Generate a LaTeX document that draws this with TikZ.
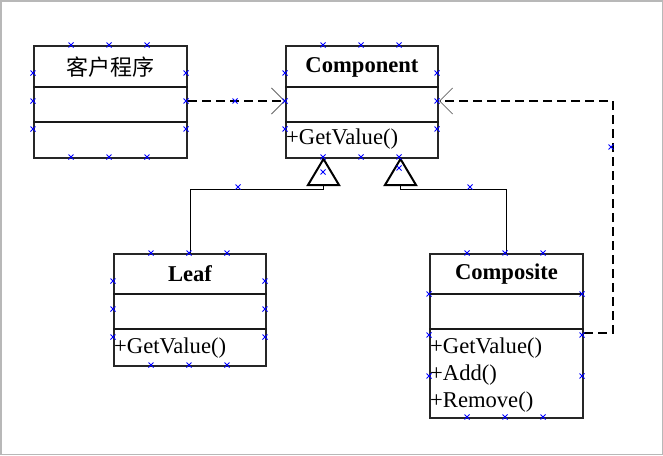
\documentclass[tikz,border=0pt]{standalone}
\usepackage{fontspec}
\setmainfont{Liberation Serif}
\newfontfamily\cjk{Noto Sans CJK SC}
\usetikzlibrary{arrows.meta,calc}
\begin{document}
\begin{tikzpicture}[x=1pt,y=-1pt,
  box/.style={draw=black!85, line width=2pt, fill=white, inner sep=0pt, anchor=north west},
  div/.style={draw=black!90, line width=1.8pt},
  title/.style={font=\fontsize{22.6}{26}\selectfont\bfseries, inner sep=0pt},
  op/.style={font=\fontsize{22.6}{26}\selectfont, inner sep=0pt, anchor=west},
  conn/.style={draw=black, line width=1pt},
  dep/.style={draw=black, line width=1.4pt, dash pattern=on 9pt off 5pt, -{Straight Barb[length=13pt,width=26pt,line width=0.8pt,color=black!60]}},
  tri/.style={draw=black, line width=2pt, fill=white, line join=miter},
  hm/.style={draw=blue, line width=0.8pt}
]
\useasboundingbox (0,0) rectangle (663,455);
\draw[draw=black!28, line width=1.5pt] (0.75,0.75) rectangle (662.25,454.25);

% boxes
\node[box, minimum width=153pt, minimum height=112pt] (client) at (33,45) {};
\node[box, minimum width=152pt, minimum height=112pt] (comp) at (285,45) {};
\node[box, minimum width=152pt, minimum height=112pt] (leaf) at (113,253) {};
\node[box, minimum width=153pt, minimum height=164pt] (compo) at (429,253) {};

% compartments
\foreach \b/\a/\c in {client/42/77, comp/42/77, leaf/41/76, compo/41/76}{
  \draw[div] ([yshift=-\a pt]\b.north west) -- ([yshift=-\a pt]\b.north east);
  \draw[div] ([yshift=-\c pt]\b.north west) -- ([yshift=-\c pt]\b.north east);
}

% titles
\node[font=\fontsize{22}{26}\selectfont\cjk, inner sep=0pt] (clientT) at ([yshift=-22pt]client.north) {客户程序};
\node[title] (compT) at ([yshift=-22.5pt]comp.north) {Component};
\node[title] (leafT) at ([yshift=-21pt]leaf.north) {Leaf};
\node[title] (compoT) at ([yshift=-21pt]compo.north) {Composite};

% operations
\node[op] (compOp) at ([xshift=1pt,yshift=-94pt]comp.north west) {+GetValue()};
\node[op] (leafOp) at ([xshift=1pt,yshift=-95pt]leaf.north west) {+GetValue()};
\node[op] (compoOp1) at ([xshift=1pt,yshift=-95pt]compo.north west) {+GetValue()};
\node[op] (compoOp2) at ([xshift=1pt,yshift=-122pt]compo.north west) {+Add()};
\node[op] (compoOp3) at ([xshift=1pt,yshift=-149pt]compo.north west) {+Remove()};

% generalization triangles
\coordinate (g1) at ($(comp.south west)!0.25!(comp.south east)$);
\coordinate (g2) at ($(comp.south west)!0.75!(comp.south east)$);
\coordinate (b1) at ([yshift=-26pt]g1);
\coordinate (b2) at ([yshift=-26pt]g2);
\draw[conn] (leaf.north) |- ([yshift=-4pt]b1) -- (b1);
\draw[conn] (compo.north) |- ([yshift=-4pt]b2) -- (b2);
\draw[tri] (g1) -- ++(-15.5,26) -- ++(31,0) -- cycle;
\draw[tri] (g2) -- ++(-15.5,26) -- ++(31,0) -- cycle;

% dependencies
\coordinate (d1) at ([yshift=-56pt]client.north east);
\coordinate (d2) at ([yshift=-56pt]comp.north west);
\coordinate (d3) at ([yshift=-80pt]compo.north east);
\coordinate (d4) at ([yshift=-56pt]comp.north east);
\draw[dep] (d1) -- (d2);
\draw[dep] (d3) -- ++(29,0) |- (d4);

% selection handles
\foreach \x/\y in {
  71/45,109/45,147/45,71/157,109/157,147/157,33/73,33/101,33/129,186/73,186/101,186/129,
  323/45,361/45,399/45,323/157,361/157,399/157,285/73,285/101,285/129,437/73,437/101,437/129,
  323/172,399/168,
  151/253,189/253,227/253,151/365,189/365,227/365,113/281,113/309,113/337,265/281,265/309,265/337,
  467/253,505/253,543/253,467/417,505/417,543/417,429/294,429/335,429/376,582/294,582/335,582/376,
  235/101,611/147,238/187,470/187}{
  \draw[hm] (\x,\y) +(-2.5,-2.5) -- +(2.5,2.5) +(-2.5,2.5) -- +(2.5,-2.5);
}
\end{tikzpicture}
\end{document}
